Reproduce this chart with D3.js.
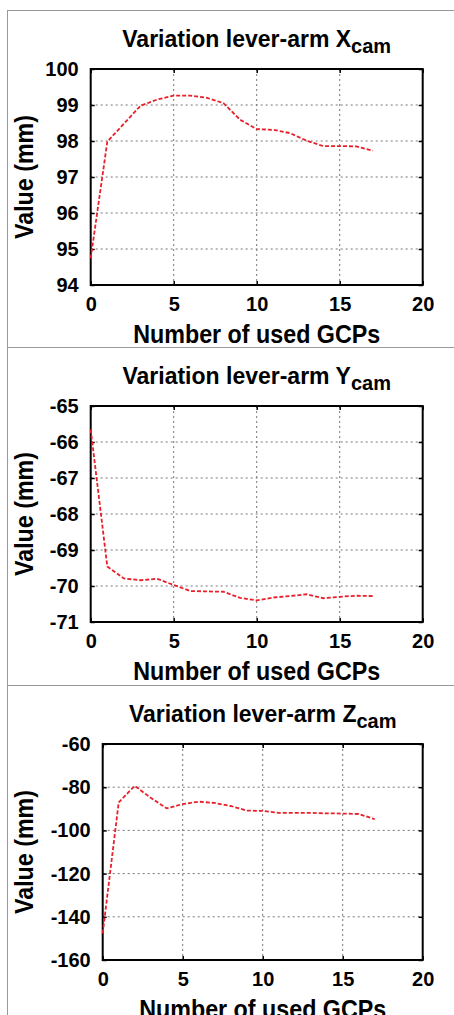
<!DOCTYPE html>
<html lang="en">

<head>
    <meta charset="UTF-8">
    <title>Lever-arm variation</title>
    <script src="https://d3js.org/d3.v7.min.js"></script>
    <style>
        body { margin: 0; background: #fff; }
        text { font-family: "Liberation Sans", Arial, Helvetica, sans-serif; font-weight: bold; fill: #000; }
    </style>
</head>

<body>

    <svg width="454" height="1015" id="mainsvg"></svg>

    <script>
        // 数据：使用的GCP数量
        const usedGcps = [0, 1, 2, 3, 4, 5, 6, 7, 8, 9, 10, 11, 12, 13, 14, 15, 16, 17];
        const leverX = [94.74, 97.98, 98.48, 98.98, 99.15, 99.26, 99.26, 99.2, 99.05, 98.59,
            98.33, 98.31, 98.22, 98.01, 97.86, 97.86, 97.85, 97.73];
        const leverY = [-65.65, -69.46, -69.79, -69.84, -69.8, -69.97, -70.14, -70.15, -70.16, -70.33,
            -70.4, -70.32, -70.28, -70.23, -70.34, -70.3, -70.27, -70.28];
        const leverZ = [-147.7, -87.0, -79.4, -84.9, -89.8, -87.8, -86.7, -87.3, -88.7, -90.8,
            -91.0, -91.9, -91.9, -91.9, -92.1, -92.2, -92.4, -94.8];

        const xTicks = [0, 5, 10, 15, 20];
        const yTicksX = [94, 95, 96, 97, 98, 99, 100];
        const yTicksY = [-71, -70, -69, -68, -67, -66, -65];
        const yTicksZ = [-160, -140, -120, -100, -80, -60];

        const svg = d3.select('#mainsvg');
        const width = +svg.attr('width');
        const height = +svg.attr('height');

        const panels = [
            { title: 'Variation lever-arm X', values: leverX, yTicks: yTicksX, top: 10, left: 90.7 },
            { title: 'Variation lever-arm Y', values: leverY, yTicks: yTicksY, top: 347, left: 90.7 },
            { title: 'Variation lever-arm Z', values: leverZ, yTicks: yTicksZ, top: 685, left: 102.7 }
        ];

        const plotRight = 422.7;
        const innerHeight = 216;
        // 刻度标签使用普通连字符作为负号
        const tickText = d => String(d);

        // 外框灰线
        svg.append('line').attr('x1', 7.5).attr('x2', 7.5).attr('y1', 10).attr('y2', height)
            .attr('stroke', '#999').attr('stroke-width', 1);
        panels.forEach(p => {
            svg.append('line').attr('x1', 7).attr('x2', width).attr('y1', p.top + 0.5).attr('y2', p.top + 0.5)
                .attr('stroke', '#999').attr('stroke-width', 1);
        });

        const render = function (p) {
            const innerWidth = plotRight - p.left;
            const g = svg.append('g')
                .attr('transform', `translate(${p.left},${p.top + 59})`);

            const xScale = d3.scaleLinear().domain([0, 20]).range([0, innerWidth]);
            const yScale = d3.scaleLinear()
                .domain([p.yTicks[0], p.yTicks[p.yTicks.length - 1]])
                .range([innerHeight, 0]);

            // 网格线（虚线）
            g.selectAll('.gx').data(xTicks.slice(1, -1)).enter().append('line')
                .attr('x1', d => xScale(d)).attr('x2', d => xScale(d))
                .attr('y1', 0).attr('y2', innerHeight)
                .attr('stroke', '#777').attr('stroke-width', 1).attr('stroke-dasharray', '2,3');
            g.selectAll('.gy').data(p.yTicks.slice(1, -1)).enter().append('line')
                .attr('x1', 0).attr('x2', innerWidth)
                .attr('y1', d => yScale(d)).attr('y2', d => yScale(d))
                .attr('stroke', '#777').attr('stroke-width', 1).attr('stroke-dasharray', '2,3');

            // 轴
            const xAxis = d3.axisBottom(xScale).tickValues(xTicks).tickFormat(tickText).tickSize(-4).tickPadding(12);
            const yAxis = d3.axisLeft(yScale).tickValues(p.yTicks).tickFormat(tickText).tickSize(-4).tickPadding(12);
            const xAxisGroup = g.append('g').attr('transform', `translate(0,${innerHeight})`).call(xAxis);
            const yAxisGroup = g.append('g').call(yAxis);
            const topGroup = g.append('g').call(d3.axisTop(xScale).tickValues(xTicks).tickSize(-4));
            const rightGroup = g.append('g').attr('transform', `translate(${innerWidth},0)`)
                .call(d3.axisRight(yScale).tickValues(p.yTicks).tickSize(-4));
            // 上、右镜像刻度不需要标签
            topGroup.selectAll('.tick text').remove();
            rightGroup.selectAll('.tick text').remove();

            [xAxisGroup, yAxisGroup, topGroup, rightGroup].forEach(a => {
                a.select('.domain').remove();
                a.selectAll('.tick line').attr('stroke', '#000').attr('stroke-width', 1.5);
                a.selectAll('.tick text').attr('font-size', 20).attr('fill', '#000');
            });
            xAxisGroup.attr('font-family', null);
            yAxisGroup.attr('font-family', null);

            // 边框
            g.append('rect').attr('x', 0).attr('y', 0).attr('width', innerWidth).attr('height', innerHeight)
                .attr('fill', 'none').attr('stroke', '#000').attr('stroke-width', 2);

            // 折线
            const line = d3.line()
                .x((d, i) => xScale(usedGcps[i]))
                .y(d => yScale(d));
            g.append('path').datum(p.values)
                .attr('d', line)
                .attr('fill', 'none')
                .attr('stroke', '#e8202a')
                .attr('stroke-width', 1.8)
                .attr('stroke-dasharray', '4,2');

            // 标题
            const title = g.append('text')
                .attr('x', innerWidth / 2).attr('y', -22)
                .attr('text-anchor', 'middle').attr('font-size', 23);
            title.append('tspan').text(p.title);
            title.append('tspan').attr('font-size', 20).attr('dy', 6).text('cam');

            // 轴标题
            g.append('text')
                .attr('x', innerWidth / 2).attr('y', innerHeight + 58)
                .attr('text-anchor', 'middle').attr('font-size', 26)
                .attr('textLength', 247).attr('lengthAdjust', 'spacingAndGlyphs')
                .text('Number of used GCPs');
            g.append('text')
                .attr('transform', `translate(${33 - p.left},${innerHeight / 2}) rotate(-90)`)
                .attr('text-anchor', 'middle').attr('font-size', 26)
                .attr('textLength', 124).attr('lengthAdjust', 'spacingAndGlyphs')
                .text('Value (mm)');
        };

        panels.forEach(render);
    </script>
</body>

</html>
